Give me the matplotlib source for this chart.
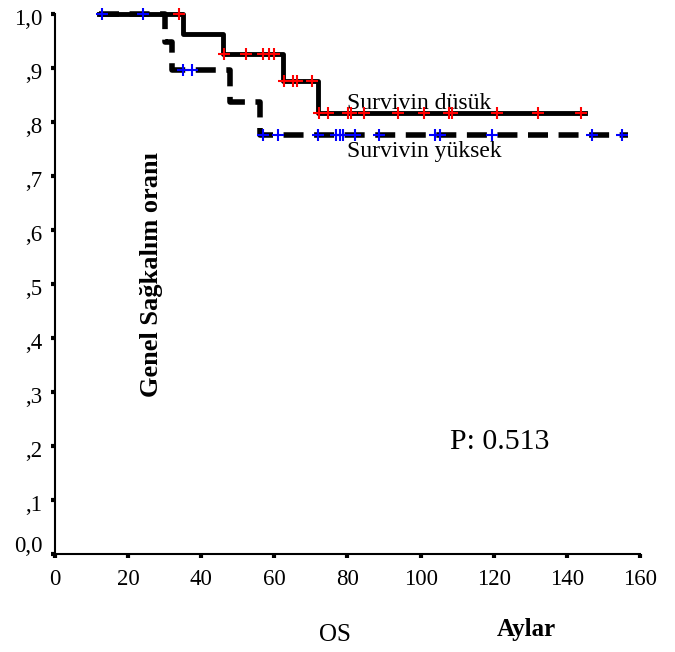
import numpy as np
from matplotlib import pyplot as plt
import matplotlib.transforms as mtransforms

# Survivin düşük (solid line)
low_start, low_end = 12, 145
low_event_times = [35, 46, 62.5, 72]
low_levels = [1.0, 0.963, 0.926, 0.876, 0.817]
low_censor = [34, 46.2, 52.3, 57, 58.5, 59.8, 62.7, 65.2, 66.3, 70.4, 72.3, 74.8,
              80.2, 81, 84.6, 93.7, 101, 107.7, 108.6, 121, 132, 143.8]

# Survivin yüksek (dashed line)
high_start, high_end = 12, 156.7
high_event_times = [30, 32, 48, 56]
high_levels = [1.0, 0.948, 0.896, 0.837, 0.776]
high_censor = [12.9, 24, 35, 37.5, 57, 61, 72, 77, 78, 78.8, 82, 88.5,
               104, 105.4, 119.5, 147, 155]

x_ticks = [0, 20, 40, 60, 80, 100, 120, 140, 160]
y_ticks = [0.0, 0.1, 0.2, 0.3, 0.4, 0.5, 0.6, 0.7, 0.8, 0.9, 1.0]
y_labels = ["0,0", ",1", ",2", ",3", ",4", ",5", ",6", ",7", ",8", ",9", "1,0"]


def step_path(start, end, events, levels):
    xs = [start] + list(events) + [end]
    ys = list(levels) + [levels[-1]]
    return np.array(xs), np.array(ys)


def level_at(t, events, levels):
    idx = np.searchsorted(events, t, side='right')
    return np.array(levels)[idx]


plt.rcParams['font.family'] = ['Liberation Serif', 'DejaVu Serif']

fig = plt.figure(figsize=(6.75, 6.52), dpi=100)
ax = fig.add_axes([0.0815, 0.1503, 0.8665, 0.8282])

xh, yh = step_path(high_start, high_end, high_event_times, high_levels)
ax.step(xh, yh, where='post', color='black', linewidth=4,
        linestyle=(0, (3.6, 1.9)), dash_capstyle='butt', clip_on=False, zorder=2)
xl, yl = step_path(low_start, low_end, low_event_times, low_levels)
ax.step(xl, yl, where='post', color='black', linewidth=3.5,
        clip_on=False, zorder=3)

ax.plot(high_censor, level_at(high_censor, high_event_times, high_levels),
        linestyle='none', marker='+', markersize=9, markeredgewidth=1.5,
        color='blue', clip_on=False, zorder=4)
ax.plot(low_censor, level_at(low_censor, low_event_times, low_levels),
        linestyle='none', marker='+', markersize=9, markeredgewidth=1.5,
        color='red', clip_on=False, zorder=4)

ax.set_xlim(0, 160)
ax.set_ylim(0, 1.0)
ax.set_xticks(x_ticks)
ax.set_yticks(y_ticks)
ax.set_yticklabels(y_labels)
ax.tick_params(axis='both', direction='out', length=3, width=3, labelsize=16.5)
ax.tick_params(axis='x', pad=8)
ax.tick_params(axis='y', pad=6)
for side in ['top', 'right']:
    ax.spines[side].set_visible(False)
for side in ['left', 'bottom']:
    ax.spines[side].set_linewidth(1.5)

# y labels sit a little below their ticks, "0,0" is lifted above the x axis
for lab in ax.get_yticklabels():
    dy = 7 / 72 if lab.get_text() == "0,0" else -2.5 / 72
    lab.set_transform(lab.get_transform() +
                      mtransforms.ScaledTranslation(0, dy, fig.dpi_scale_trans))

ax.text(80, 0.835, "Survivin düsük", fontsize=17, va='center')
ax.text(80, 0.746, "Survivin yüksek", fontsize=17, va='center')
ax.text(26.5, 0.517, "Genel Sağkalım oranı", fontsize=19, fontweight='bold',
        rotation=90, ha='center', va='center')
ax.text(121.6, 0.207, "P: 0.513", fontsize=21.5, ha='center', va='center')

fig.text(0.496, 0.026, "OS", fontsize=18, ha='center', va='center')
fig.text(0.78, 0.034, "Aylar", fontsize=18, fontweight='bold', ha='center', va='center')

fig.savefig("out.png", dpi=100)
